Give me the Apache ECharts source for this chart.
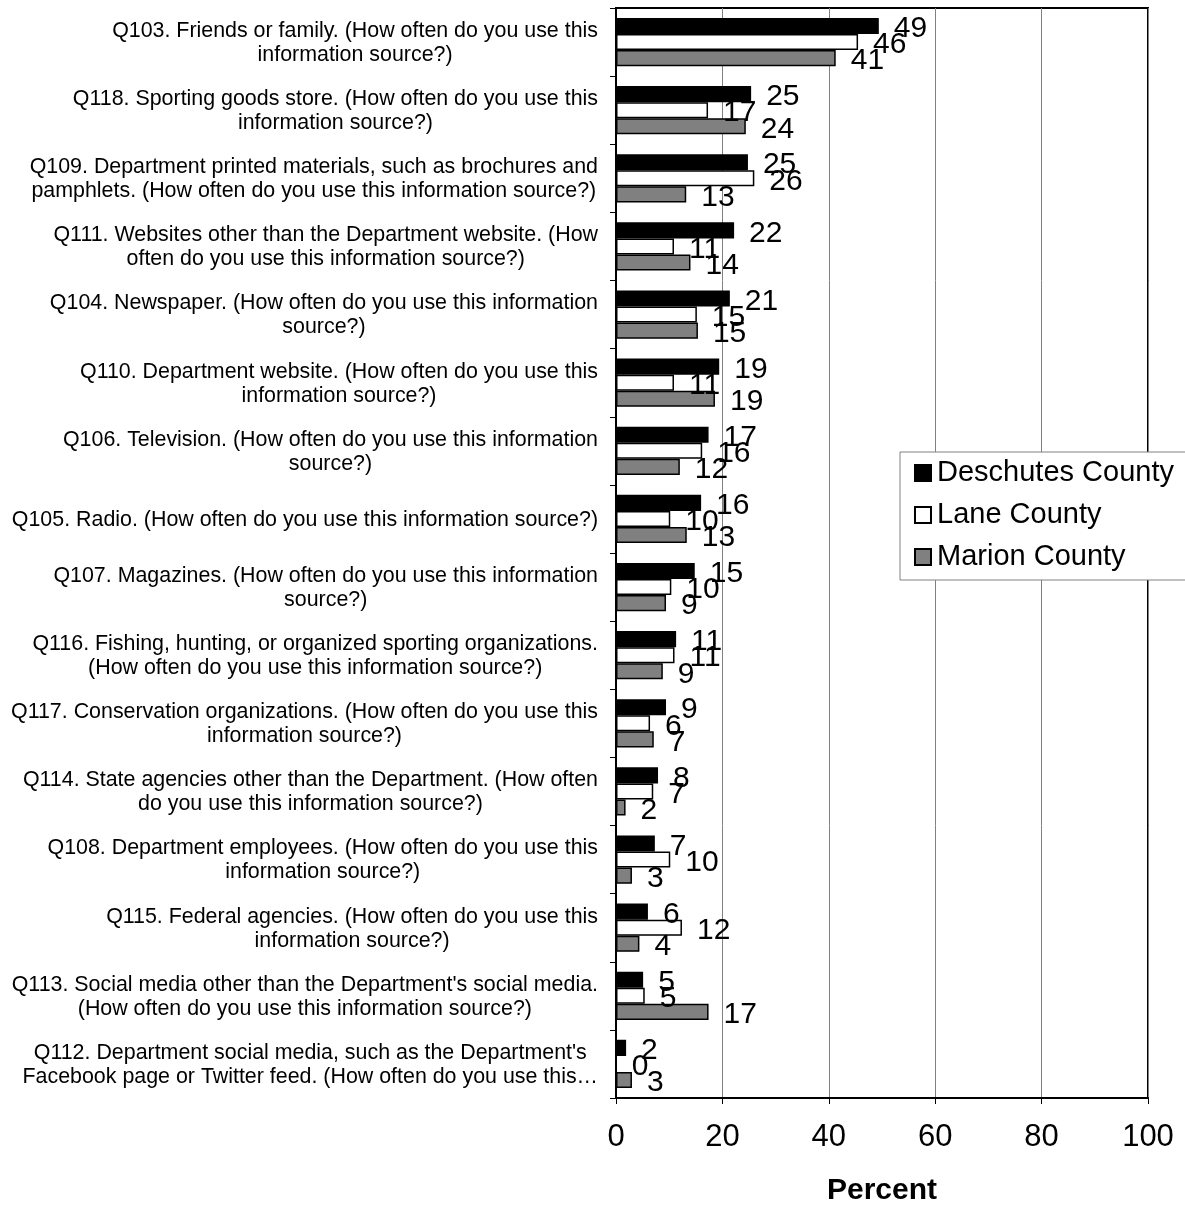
<!DOCTYPE html>
<html>
<head>
<meta charset="utf-8">
<script src="https://cdn.jsdelivr.net/npm/echarts@6/dist/echarts.min.js"></script>
<style>
  html, body { margin: 0; padding: 0; background: #fff; }
  #main { width: 1185px; height: 1205px; }
</style>
</head>
<body>
<div id="main"></div>
<script>
var categories = [
  "Q103. Friends or family. (How often do you use this\ninformation source?)",
  "Q118. Sporting goods store. (How often do you use this\ninformation source?)",
  "Q109. Department printed materials, such as brochures and\npamphlets. (How often do you use this information source?)",
  "Q111. Websites other than the Department website. (How\noften do you use this information source?)",
  "Q104. Newspaper. (How often do you use this information\nsource?)",
  "Q110. Department website. (How often do you use this\ninformation source?)",
  "Q106. Television. (How often do you use this information\nsource?)",
  "Q105. Radio. (How often do you use this information source?)",
  "Q107. Magazines. (How often do you use this information\nsource?)",
  "Q116. Fishing, hunting, or organized sporting organizations.\n(How often do you use this information source?)",
  "Q117. Conservation organizations. (How often do you use this\ninformation source?)",
  "Q114. State agencies other than the Department. (How often\ndo you use this information source?)",
  "Q108. Department employees. (How often do you use this\ninformation source?)",
  "Q115. Federal agencies. (How often do you use this\ninformation source?)",
  "Q113. Social media other than the Department's social media.\n(How often do you use this information source?)",
  "Q112. Department social media, such as the Department's\nFacebook page or Twitter feed. (How often do you use this\u2026"
];
var deschutes = [49.4, 25.4, 24.8, 22.2, 21.4, 19.4, 17.4, 16.0, 14.8, 11.3, 9.4, 7.9, 7.3, 6.0, 5.1, 1.9];
var lane      = [45.5, 17.3, 26.0, 10.9, 15.2, 10.9, 16.2, 10.2, 10.4, 11.0, 6.4, 7.0, 10.2, 12.4, 5.4, 0];
var marion    = [41.3, 24.4, 13.2, 14.0, 15.4, 18.6, 12.0, 13.3, 9.4, 8.8, 7.1, 1.8, 3.0, 4.4, 17.4, 3.0];
var xTicks = [0, 20, 40, 60, 80, 100];

var font = 'Liberation Sans, Arial, sans-serif';

function seriesOf(name, data, fill) {
  return {
    name: name,
    type: 'bar',
    data: data,
    barGap: '0%',
    barCategoryGap: '29%',
    itemStyle: { color: fill, borderColor: '#000', borderWidth: 1.5 },
    label: {
      show: true,
      position: 'right',
      distance: 15,
      offset: [0, 3],
      fontSize: 30,
      fontFamily: font,
      color: '#000',
      formatter: function (p) { return Math.round(p.value); }
    }
  };
}

var myChart = echarts.init(document.getElementById('main'));
myChart.setOption({
  animation: false,
  backgroundColor: '#fff',
  textStyle: { fontFamily: font },
  grid: {
    left: 616, top: 8, right: 37, bottom: 107,
    containLabel: false,
    outerBoundsMode: 'none',
    show: true, borderColor: '#000', borderWidth: 2
  },
  legend: {
    orient: 'vertical',
    left: 900, top: 452,
    icon: 'rect',
    itemWidth: 16, itemHeight: 16,
    itemGap: 12,
    padding: [6, 20, 8, 14],
    backgroundColor: '#fff',
    borderColor: '#808080', borderWidth: 1,
    textStyle: { fontSize: 29, lineHeight: 30, color: '#000', fontFamily: font, padding: [0, 0, 0, 1] },
    data: ['Deschutes County', 'Lane County', 'Marion County']
  },
  xAxis: {
    type: 'value',
    min: 0, max: 100, interval: 20,
    name: 'Percent',
    nameLocation: 'middle',
    nameGap: 78,
    nameTextStyle: { fontSize: 30, fontWeight: 'bold', color: '#000', fontFamily: font },
    axisLine: { show: true, lineStyle: { color: '#000', width: 2 } },
    axisTick: { show: true, length: 6, lineStyle: { color: '#000' } },
    axisLabel: {
      fontSize: 31, color: '#000', margin: 24, fontFamily: font,
      formatter: function (v) { return xTicks.indexOf(v) >= 0 ? String(v) : ''; }
    },
    splitLine: { show: true, lineStyle: { color: '#808080', width: 1 } }
  },
  yAxis: {
    type: 'category',
    data: categories,
    inverse: true,
    axisLine: { show: true, lineStyle: { color: '#000', width: 2 } },
    axisTick: { show: true, length: 6, lineStyle: { color: '#000' } },
    axisLabel: {
      margin: 18,
      formatter: function (v) {
        return v.split('\n').map(function (s) { return '{c|' + s + '}'; }).join('\n');
      },
      rich: {
        c: { align: 'center', fontSize: 21.4, lineHeight: 24, color: '#000', fontFamily: font, padding: [2, 0, 0, 0] }
      }
    },
    splitLine: { show: false }
  },
  series: [
    seriesOf('Deschutes County', deschutes, '#000000'),
    seriesOf('Lane County', lane, '#ffffff'),
    seriesOf('Marion County', marion, '#808080')
  ]
});
</script>
</body>
</html>
